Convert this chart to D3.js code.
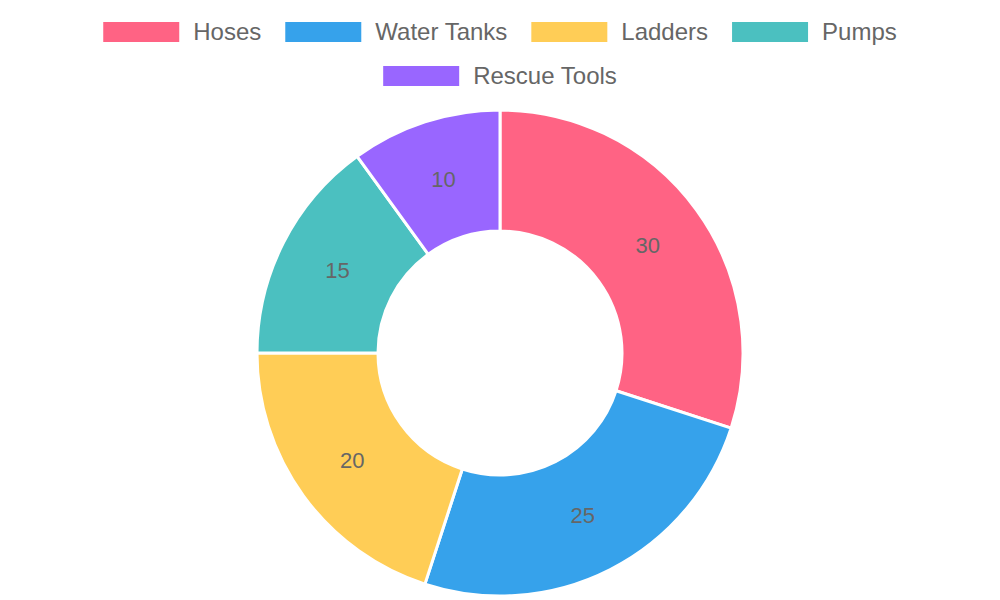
<!DOCTYPE html>
<html lang="en">
<head>
<meta charset="UTF-8">
<title>Fire Equipment Doughnut</title>
<script src="https://cdn.jsdelivr.net/npm/d3@7"></script>
<style>
  body { margin: 0; background: #fff; }
  svg { display: block; font-family: "Liberation Sans", Arial, sans-serif; }
</style>
</head>
<body>
<div class="chart"></div>
<script>
  const categories = ["Hoses", "Water Tanks", "Ladders", "Pumps", "Rescue Tools"];
  const values = [30, 25, 20, 15, 10];
  const colors = ["#ff6384", "#36a2eb", "#ffcd56", "#4bc0c0", "#9966ff"];

  const W = 1000, H = 600;
  const center = {x: 500, y: 353};
  const outerR = 243, innerR = 122;

  const svg = d3.select('.chart').append('svg')
    .attr('width', W).attr('height', H);

  const data = categories.map((c, i) => ({name: c, value: values[i], color: colors[i]}));

  // legend
  const legend = svg.append('g');
  const boxW = 76, boxH = 20, textGap = 14, itemGap = 24, maxW = 900;
  const items = legend.selectAll('.item').data(data).enter().append('g').attr('class', 'item');
  items.append('rect').attr('width', boxW).attr('height', boxH).attr('y', -boxH / 2)
    .attr('fill', d => d.color);
  items.append('text').attr('x', boxW + textGap).attr('dy', '0.35em')
    .attr('font-size', 24).attr('fill', '#666').text(d => d.name);

  const widths = [];
  items.each(function() { widths.push(boxW + textGap + this.querySelector('text').getComputedTextLength()); });
  const rows = [[]];
  let rowW = 0;
  widths.forEach((w, i) => {
    const need = rows[rows.length - 1].length ? rowW + itemGap + w : w;
    if (need > maxW) { rows.push([i]); rowW = w; }
    else { rows[rows.length - 1].push(i); rowW = need; }
  });
  rows.forEach((row, r) => {
    const total = row.reduce((s, i) => s + widths[i], 0) + itemGap * (row.length - 1);
    let x = W / 2 - total / 2;
    row.forEach(i => {
      d3.select(items.nodes()[i]).attr('transform', `translate(${x} ${32 + r * 44})`);
      x += widths[i] + itemGap;
    });
  });

  // doughnut
  const pie = d3.pie().value(d => d.value).sort(null);
  const arc = d3.arc().innerRadius(innerR).outerRadius(outerR);
  const labelArc = d3.arc().innerRadius((innerR + outerR) / 2).outerRadius((innerR + outerR) / 2);

  const g = svg.append('g').attr('transform', `translate(${center.x} ${center.y})`);
  const slices = g.selectAll('.slice').data(pie(data)).enter().append('g').attr('class', 'slice');
  slices.append('path').attr('d', arc).attr('fill', d => d.data.color)
    .attr('stroke', '#fff').attr('stroke-width', 3).attr('stroke-linejoin', 'round');
  slices.append('text')
    .attr('transform', d => `translate(${labelArc.centroid(d)})`)
    .attr('text-anchor', 'middle').attr('dy', '0.35em')
    .attr('font-size', 22).attr('fill', '#666')
    .text(d => d.data.value);
</script>
</body>
</html>
